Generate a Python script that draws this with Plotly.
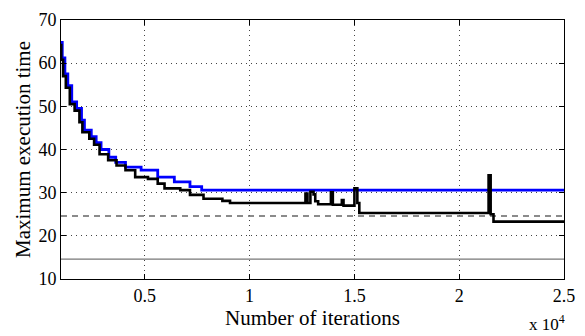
import plotly.graph_objects as go

# Data
blue_x = [1000, 1060, 1186, 1326, 1513, 1746, 1979, 2119, 2445, 2678, 2911, 3284, 3611, 4077, 4823, 5615, 6408, 7154, 7713, 25000]
blue_y = [64.8, 61.2, 57.5, 54.8, 51.0, 49.5, 46.8, 44.5, 43.0, 41.6, 40.0, 38.2, 37.0, 35.9, 35.2, 33.6, 32.5, 31.4, 30.6, 30.6]

black_x = [1000, 1010, 1100, 1230, 1420, 1650, 1880, 2020, 2350, 2580, 2840, 3250, 3650, 4077, 4540, 5150, 5615, 5940, 6690, 7154, 7800, 8700, 9065,
           12664, 12760, 12900, 13050, 13131, 13270, 13879, 13970, 14400, 14480, 15000, 15140, 15234, 21402, 21500, 21636, 25000]
black_y = [64.2, 60.8, 57.0, 54.3, 50.5, 49.0, 46.3, 44.0, 42.5, 41.1, 38.9, 37.5, 36.3, 35.2, 33.6, 33.2, 32.1, 31.0, 30.6, 29.5, 28.6, 28.1, 27.6,
           29.8, 27.6, 30.2, 29.6, 28.0, 27.3, 30.1, 27.2, 28.3, 27.0, 31.0, 27.6, 25.3, 34.0, 25.0, 23.3, 23.3]

dashed_level = 24.6
solid_level = 14.6
x_span = [1000, 25000]

xtick_vals = [5000, 10000, 15000, 20000, 25000]
xtick_text = ["0.5", "1", "1.5", "2", "2.5"]
ytick_vals = [10, 20, 30, 40, 50, 60, 70]

font = "Liberation Serif"

fig = go.Figure()
fig.add_trace(go.Scatter(x=x_span, y=[solid_level] * 2, mode="lines",
                         line=dict(color="#777777", width=1.2), showlegend=False))
fig.add_trace(go.Scatter(x=x_span, y=[dashed_level] * 2, mode="lines",
                         line=dict(color="#666666", width=1.5, dash="6px,5px"), showlegend=False))
fig.add_trace(go.Scatter(x=blue_x, y=blue_y, mode="lines", line_shape="hv",
                         line=dict(color="#0000ff", width=2.8), showlegend=False))
fig.add_trace(go.Scatter(x=black_x, y=black_y, mode="lines", line_shape="hv",
                         line=dict(color="#000000", width=2.6), showlegend=False))

axis_common = dict(showline=True, linecolor="black", linewidth=1, mirror="ticks",
                   ticks="inside", ticklen=5, tickcolor="black",
                   showgrid=True, gridcolor="#444444", gridwidth=1, griddash="1px,4px",
                   zeroline=False, ticklabeloverflow="allow",
                   tickfont=dict(family=font, size=18, color="black"))

fig.update_xaxes(range=x_span, tickvals=xtick_vals, ticktext=xtick_text,
                 title=dict(text="Number of iterations", font=dict(family=font, size=21, color="black"), standoff=0),
                 **axis_common)
fig.update_yaxes(range=[10, 70], tickvals=ytick_vals,
                 title=dict(text="Maximum execution time", font=dict(family=font, size=21, color="black"), standoff=2),
                 **axis_common)

fig.add_annotation(text="x 10<sup>4</sup>", xref="paper", yref="paper", x=1.005, y=-0.17,
                   xanchor="right", yanchor="middle", showarrow=False,
                   font=dict(family=font, size=17, color="black"))

fig.update_layout(width=585, height=336, margin=dict(l=61, r=10, t=15, b=57),
                  plot_bgcolor="white", paper_bgcolor="white")

fig.write_html("out.html")
